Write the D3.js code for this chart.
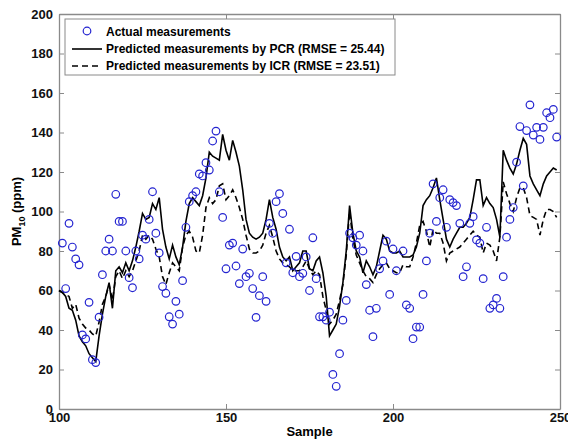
<!DOCTYPE html>
<html>
<head>
<meta charset="utf-8">
<script src="https://cdn.jsdelivr.net/npm/d3@7"></script>
<style>
  body { margin: 0; background: #fff; }
  svg text { font-family: "Liberation Sans", Arial, sans-serif; font-weight: bold; }
</style>
</head>
<body>
<div id="chart"></div>
<script>
// Sample numbers of the actual measurements (x positions of the circles)
var actualSample = [101, 102, 103, 104, 105, 106, 107, 108, 109, 110, 111, 112, 113, 114, 115, 116, 117, 118, 119, 120,
    121, 122, 123, 124, 125, 126, 127, 128, 129, 130, 131, 132, 133, 134, 135, 136, 137, 138, 139, 140,
    141, 142, 143, 144, 145, 146, 147, 148, 149, 150, 151, 152, 153, 154, 155, 156, 157, 158, 159, 160,
    161, 162, 163, 164, 165, 166, 167, 168, 169, 170, 171, 172, 173, 174, 175, 176, 177, 178, 179, 180,
    181, 182, 183, 184, 185, 186, 187, 188, 189, 190, 191, 192, 193, 194, 195, 196, 197, 198, 199, 200,
    201, 203, 204, 205, 206, 207, 208, 209, 210, 211, 212, 213, 214, 215, 216, 217, 218, 219, 220, 221,
    222, 223, 224, 225, 226, 227, 228, 229, 230, 231, 232, 233, 234, 235, 236, 237, 238, 239, 240, 241,
    242, 243, 244, 245, 246, 247, 248, 249];

// Actual PM10 measurements (ppm)
var actualValue = [84, 61, 94, 82, 76, 73, 37.5, 35.5, 54, 25, 23.5, 46.5, 68, 80, 86, 80, 108.7, 95, 95, 80,
    66.5, 61.4, 80, 76, 88, 86, 96, 110, 89, 79, 62, 58.6, 46.7, 43, 54.5, 48, 65, 92, 105, 108,
    110, 119, 118, 124.7, 121, 135.7, 140.7, 110, 97, 71, 83, 84, 72.4, 63.5, 81, 67, 68.7, 61, 46.4, 57.4,
    67, 54.5, 94, 89, 105, 109, 99, 74, 91, 69, 77.3, 67, 68.7, 77, 60, 86.7, 66, 46.7, 46.7, 45,
    49, 17.5, 11.5, 28, 45, 55, 89, 86.7, 83, 88, 80, 63, 50, 36.6, 51, 71, 75, 85, 58, 81,
    70, 80, 52.7, 51, 35.6, 41.5, 41.5, 58, 75, 89, 114, 95, 107, 111, 92, 106, 104.5, 103, 94, 67,
    72, 94, 97.4, 85.6, 84, 66, 92, 51, 52.7, 56, 51, 67, 87, 96, 102, 125, 143, 113, 141, 154,
    138.7, 142.6, 136.5, 142.6, 150, 147.5, 151.7, 137.7];

// Samples of the predicted series
var predSample = d3.range(100, 250);

// Predicted by PCR (RMSE = 25.44)
var pcrValue = [60, 59, 57, 51, 50, 45, 37, 34, 32, 28, 26, 24, 37, 48, 57, 64, 51, 70, 72, 69,
    74, 70, 75, 82, 90, 99, 96, 97, 104, 101, 107, 91, 82, 76, 83, 77, 73, 82, 95, 104,
    107, 105, 103, 108, 117, 130, 128, 127, 126, 139, 131, 126, 136, 130, 123, 111, 96, 89, 87, 86,
    87, 89, 96, 106, 97, 91, 82, 77, 75, 77, 70, 72, 74, 80, 80, 71, 70, 75, 77, 69,
    57, 37, 40, 43, 52, 64, 80, 103, 89, 80, 77, 69, 75, 72, 68, 72, 80, 88, 86, 80,
    79, 79, 80, 77, 77, 77, 78, 82, 89, 103, 106, 108, 112, 117, 106, 96, 86, 82, 86, 89,
    92, 92, 94, 97, 106, 116, 116, 103, 107, 104, 102, 96, 87, 131, 126, 122, 119, 124, 131, 137,
    134, 118, 114, 111, 108, 114, 118, 120, 122, 121];

// Predicted by ICR (RMSE = 23.51)
var icrValue = [60, 59, 58, 57, 51, 53, 46, 43, 41, 40, 38, 37, 44, 53, 57, 63, 55, 67, 70, 66,
    70, 67, 70, 75, 80, 88, 86, 88, 86, 81, 77, 67, 63, 69, 74, 72, 70, 82, 88, 90,
    87, 80, 79, 88, 102, 107, 104, 106, 113, 114, 106, 108, 111, 107, 102, 96, 88, 81, 79, 79,
    80, 83, 89, 93, 87, 80, 76, 74, 73, 72, 70, 70, 70, 72, 75, 71, 68, 70, 68, 57,
    50, 43, 45, 48, 55, 63, 78, 100, 86, 78, 74, 70, 67, 66, 64, 68, 71, 73, 74, 71,
    70, 69, 69, 73, 72, 72, 77, 84, 93, 95, 90, 82, 91, 89, 89, 84, 75, 79, 80, 81,
    82, 84, 86, 88, 90, 88, 87, 79, 84, 83, 80, 75, 87, 115, 109, 104, 100, 107, 112, 112,
    107, 98, 97, 96, 88, 96, 101, 101, 100, 97];

var xTicks = [100, 150, 200, 250];
var yTicks = [0, 20, 40, 60, 80, 100, 120, 140, 160, 180, 200];

var legendLabels = ["Actual measurements",
    "Predicted measurements by PCR (RMSE = 25.44)",
    "Predicted measurements by ICR (RMSE = 23.51)"];

var W = 568, H = 439;
var margin = { top: 14, right: 8, bottom: 30, left: 59 },
    width = W - margin.left - margin.right,
    height = H - margin.top - margin.bottom;

var svg = d3.select("#chart").append("svg")
    .attr("width", W)
    .attr("height", H);

var g = svg.append("g")
    .attr("transform", "translate(" + margin.left + "," + margin.top + ")");

var x = d3.scaleLinear().domain([100, 250]).range([0, width]);
var y = d3.scaleLinear().domain([0, 200]).range([height, 0]);

var axisColor = "#8a8a8a";

// bottom axis with inward ticks
var xAxis = g.append("g")
    .attr("transform", "translate(0," + height + ")")
    .call(d3.axisBottom(x).tickValues(xTicks).tickSizeInner(-5).tickSizeOuter(0).tickPadding(6));
var yAxis = g.append("g")
    .call(d3.axisLeft(y).tickValues(yTicks).tickSizeInner(-5).tickSizeOuter(0).tickPadding(6));
// mirrored ticks on top and right
var xTop = g.append("g")
    .call(d3.axisTop(x).tickValues(xTicks).tickSizeInner(-5).tickSizeOuter(0).tickFormat(""));
var yRight = g.append("g")
    .attr("transform", "translate(" + width + ",0)")
    .call(d3.axisRight(y).tickValues(yTicks).tickSizeInner(-5).tickSizeOuter(0).tickFormat(""));

[xAxis, yAxis, xTop, yRight].forEach(function (a) {
    a.selectAll("path").attr("stroke", axisColor).attr("stroke-width", 1.3);
    a.selectAll("line").attr("stroke", axisColor);
    a.selectAll("text").attr("fill", "#111").style("font-size", "13px");
});
xAxis.selectAll("text").attr("dy", "0.55em");

// lines
var line = function (vals) {
    return d3.line()
        .x(function (d, i) { return x(predSample[i]); })
        .y(function (d) { return y(d); })(vals);
};

g.append("path")
    .attr("d", line(icrValue))
    .attr("fill", "none")
    .attr("stroke", "#000")
    .attr("stroke-width", 1.6)
    .attr("stroke-dasharray", "6,4");

g.append("path")
    .attr("d", line(pcrValue))
    .attr("fill", "none")
    .attr("stroke", "#000")
    .attr("stroke-width", 1.6);

// actual measurement circles
g.selectAll("circle.obs")
    .data(actualValue)
    .enter()
    .append("circle")
    .attr("class", "obs")
    .attr("cx", function (d, i) { return x(actualSample[i]); })
    .attr("cy", function (d) { return y(d); })
    .attr("r", 3.8)
    .attr("fill", "none")
    .attr("stroke", "#2424d0")
    .attr("stroke-width", 1.2);

// axis labels
svg.append("text")
    .attr("x", margin.left + width / 2)
    .attr("y", 436)
    .attr("text-anchor", "middle")
    .style("font-size", "13px")
    .text("Sample");

var yl = svg.append("text")
    .attr("transform", "translate(21," + (margin.top + height / 2) + ") rotate(-90)")
    .attr("text-anchor", "middle")
    .style("font-size", "13px");
yl.append("tspan").text("PM");
yl.append("tspan").attr("dy", 4).style("font-size", "9px").text("10");
yl.append("tspan").attr("dy", -4).text(" (ppm)");

// legend
var lg = svg.append("g").attr("transform", "translate(65,19)");
lg.append("rect")
    .attr("width", 330)
    .attr("height", 56)
    .attr("fill", "#fff")
    .attr("stroke", axisColor);

legendLabels.forEach(function (lab, i) {
    var ly = 13 + i * 17;
    if (i === 0) {
        lg.append("circle").attr("cx", 22).attr("cy", ly - 1).attr("r", 3.8)
            .attr("fill", "none").attr("stroke", "#2424d0").attr("stroke-width", 1.2);
    } else {
        lg.append("line").attr("x1", 7).attr("x2", 37).attr("y1", ly).attr("y2", ly)
            .attr("stroke", "#000").attr("stroke-width", 1.6)
            .attr("stroke-dasharray", i === 2 ? "6,4" : null);
    }
    lg.append("text")
        .attr("x", 41)
        .attr("y", ly + 4)
        .style("font-size", "12px")
        .text(lab);
});
</script>
</body>
</html>
